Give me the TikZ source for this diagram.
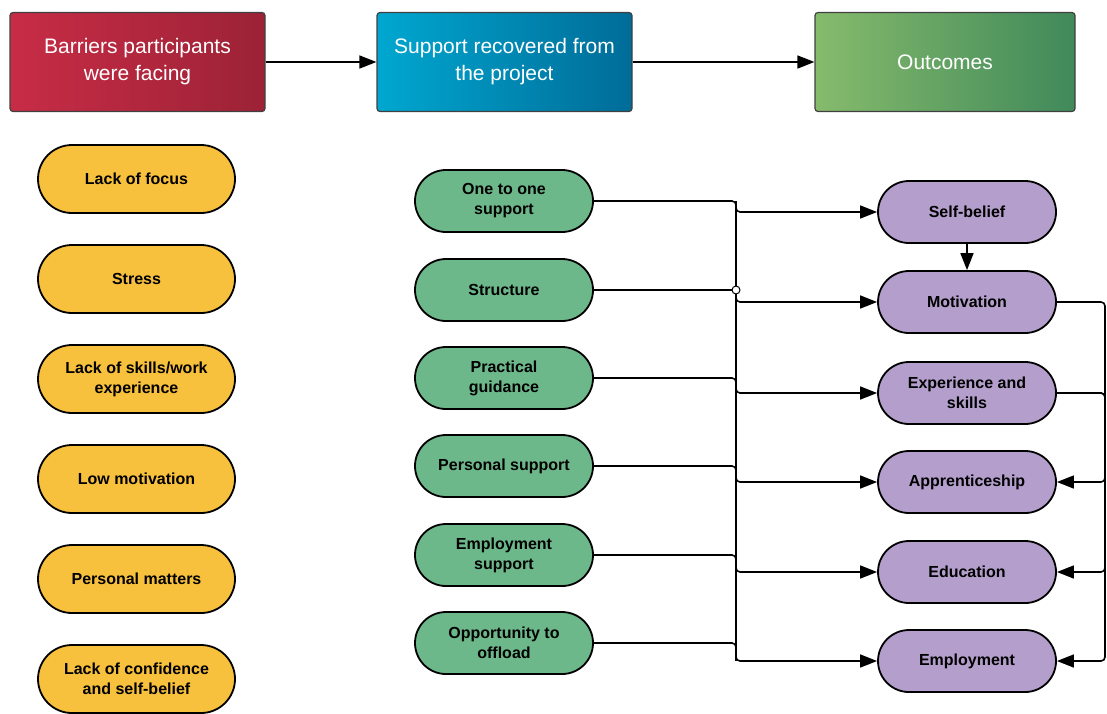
\documentclass[tikz,border=0pt]{standalone}
\usepackage{fontspec}
\setmainfont{Liberation Sans}
\usetikzlibrary{arrows.meta,positioning}
\definecolor{barrierfill}{HTML}{F8C13D}
\definecolor{supportfill}{HTML}{6DB88A}
\definecolor{outcomefill}{HTML}{B49FCC}
\tikzset{
  head/.style={draw=black!75,line width=1.2pt,rounded corners=3pt,minimum height=99pt,
    text=white,align=center,font=\fontsize{21}{27}\selectfont},
  pill/.style={draw=black,line width=1.8pt,rounded corners=31pt,minimum height=62pt,
    minimum width=178pt,align=center,inner sep=0pt,font=\fontsize{16}{20}\selectfont\bfseries},
  barrier/.style={pill,fill=barrierfill,minimum width=197pt,minimum height=68pt,rounded corners=34pt},
  support/.style={pill,fill=supportfill},
  outcome/.style={pill,fill=outcomefill},
  link/.style={line width=1.6pt,rounded corners=4pt},
  >={Triangle[length=17pt,width=13pt]}
}
\begin{document}
\begin{tikzpicture}[x=1pt,y=-1pt]
\useasboundingbox (0,0) rectangle (1107,713);
% headers
\node[head,minimum width=255pt,left color={rgb,255:red,200;green,44;blue,70},right color={rgb,255:red,156;green,34;blue,54}] (barriers) at (137.5,62) {Barriers participants\\were facing};
\node[head,minimum width=255pt,left color={rgb,255:red,0;green,167;blue,208},right color={rgb,255:red,0;green,108;blue,152}] (support) at (504.5,62) {Support recovered from\\the project};
\node[head,minimum width=260pt,left color={rgb,255:red,134;green,187;blue,108},right color={rgb,255:red,64;green,137;blue,90}] (outcomes) at (945,62) {Outcomes};
\draw[->,line width=1.6pt] (barriers) -- (support);
\draw[->,line width=1.6pt] (support) -- (outcomes);
% barriers
\foreach \y/\t [count=\i] in {179/Lack of focus,279/Stress,379/{Lack of skills/work\\experience},
  479/Low motivation,579/Personal matters,679/{Lack of confidence\\and self-belief}}
  \node[barrier] (b\i) at (136.5,\y) {\t};
% support
\foreach \y/\t [count=\i] in {201/{One to one\\support},290/Structure,378/{Practical\\guidance},
  466/Personal support,555/{Employment\\support},643/{Opportunity to\\offload}}
  \node[support] (s\i) at (504,\y) {\t};
% outcomes
\foreach \y/\t [count=\i] in {212/Self-belief,302/Motivation,393/{Experience and\\skills},
  482/Apprenticeship,572/Education,661/Employment}
  \node[outcome] (o\i) at (967,\y) {\t};
\coordinate (bus) at (736,0);
\coordinate (rbus) at (1105,0);
% support -> outcomes
\draw[line width=1.6pt] (bus |- s1.east) -- (bus |- o6.west);
\foreach \i in {1,...,6}
  \draw[link,->] (s\i.east) -| (bus |- o\i.west) -- (o\i.west);
\draw[line width=1pt,fill=white] (bus |- s2.east) circle (4pt);
\draw[->,line width=1.6pt] (o1) -- (o2);
% outcomes loop back
\draw[link,->] (o2.east) -| (rbus |- o6.east) -- (o6.east);
\draw[link,->] (o3.east) -| (rbus |- o4.east) -- (o4.east);
\draw[link,->] (o3.east) -| (rbus |- o5.east) -- (o5.east);
\end{tikzpicture}
\end{document}
